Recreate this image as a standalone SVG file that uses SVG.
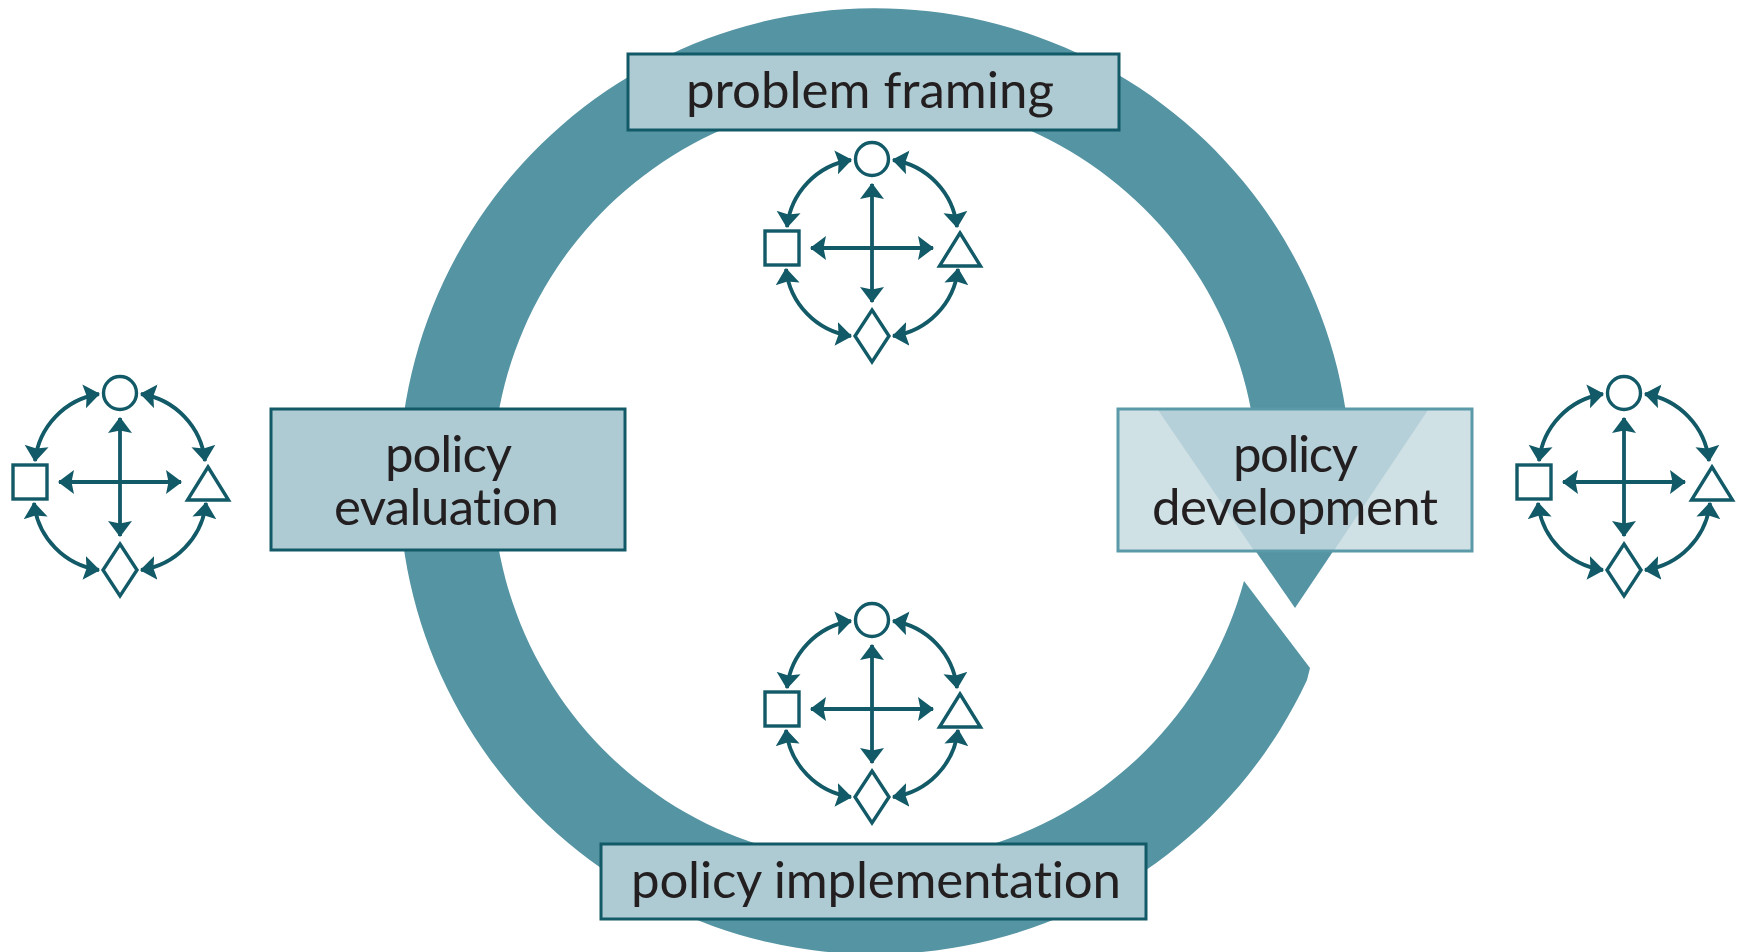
<svg xmlns="http://www.w3.org/2000/svg" width="1740" height="952" viewBox="0 0 1740 952">
<style>
.box{fill:#aecbd3;stroke:#125a67;stroke-width:3}
.lbl{font-family:"Lato","Noto Sans",sans-serif;font-size:51px;fill:#231f20;font-variant-ligatures:none}
.sh{fill:#fff;stroke:#125a67;stroke-width:3.4}
.ln{fill:none;stroke:#125a67;stroke-width:3.8;marker-start:url(#h);marker-end:url(#h)}
</style>
<defs>
<marker id="h" markerUnits="userSpaceOnUse" markerWidth="20" markerHeight="26" refX="15" refY="12" orient="auto-start-reverse"><path d="M0 0L2.500 12L0 24L16 12Z" fill="#125a67"/></marker>
<g id="icon">
<path class="ln" d="M0-64V54"/>
<path class="ln" d="M-61 0H61"/>
<path class="ln" d="M-21-88A76 76 0 0 0-85-21"/>
<path class="ln" d="M21-88A76 76 0 0 1 85-21"/>
<path class="ln" d="M-86 21A76 76 0 0 0-21 88"/>
<path class="ln" d="M86 21A76 76 0 0 1 21 88"/>
<circle class="sh" cx="0" cy="-89" r="16.500"/>
<rect class="sh" x="-107" y="-17" width="34" height="34"/>
<path class="sh" d="M88-15L108.500 18H67.500Z"/>
<path class="sh" d="M0 62L17 88L0 114L-17 88Z"/>
</g>
</defs>
<g id="connectors">
<path d="M1244 581L1310 668L1307 680A476 473 0 1 1 1345.600 410L1251 410A382.500 382.500 0 1 0 1244 581Z" fill="#5594a3"/>
<path d="M1158 410H1428L1295 608Z" fill="#5594a3"/>
</g>
<g id="problem-framing"><rect class="box" x="628" y="54" width="491" height="76"/><text class="lbl" x="686" y="108" textLength="368">problem framing</text></g>
<g id="policy-implementation"><rect class="box" x="601" y="844" width="545" height="75"/><text class="lbl" x="631" y="898" textLength="490">policy implementation</text></g>
<g id="policy-evaluation"><rect class="box" x="271" y="409" width="354" height="141"/><text class="lbl" x="385" y="472" textLength="127">policy</text><text class="lbl" x="334" y="525" textLength="225">evaluation</text></g>
<g id="policy-development"><rect x="1118" y="409" width="354" height="142" fill="#d0e1e6"/><path d="M1158 410H1428L1333 552H1255Z" fill="#b5d0d8"/><rect x="1118" y="409" width="354" height="142" fill="none" stroke="#5b9aa8" stroke-width="3"/><text class="lbl" x="1233" y="472" textLength="125">policy</text><text class="lbl" x="1152" y="525" textLength="286">development</text></g>
<g id="icon-top"><use href="#icon" x="872" y="248"/></g>
<g id="icon-bottom"><use href="#icon" x="872" y="709"/></g>
<g id="icon-left"><use href="#icon" x="120" y="482"/></g>
<g id="icon-right"><use href="#icon" x="1624" y="482"/></g>
</svg>
